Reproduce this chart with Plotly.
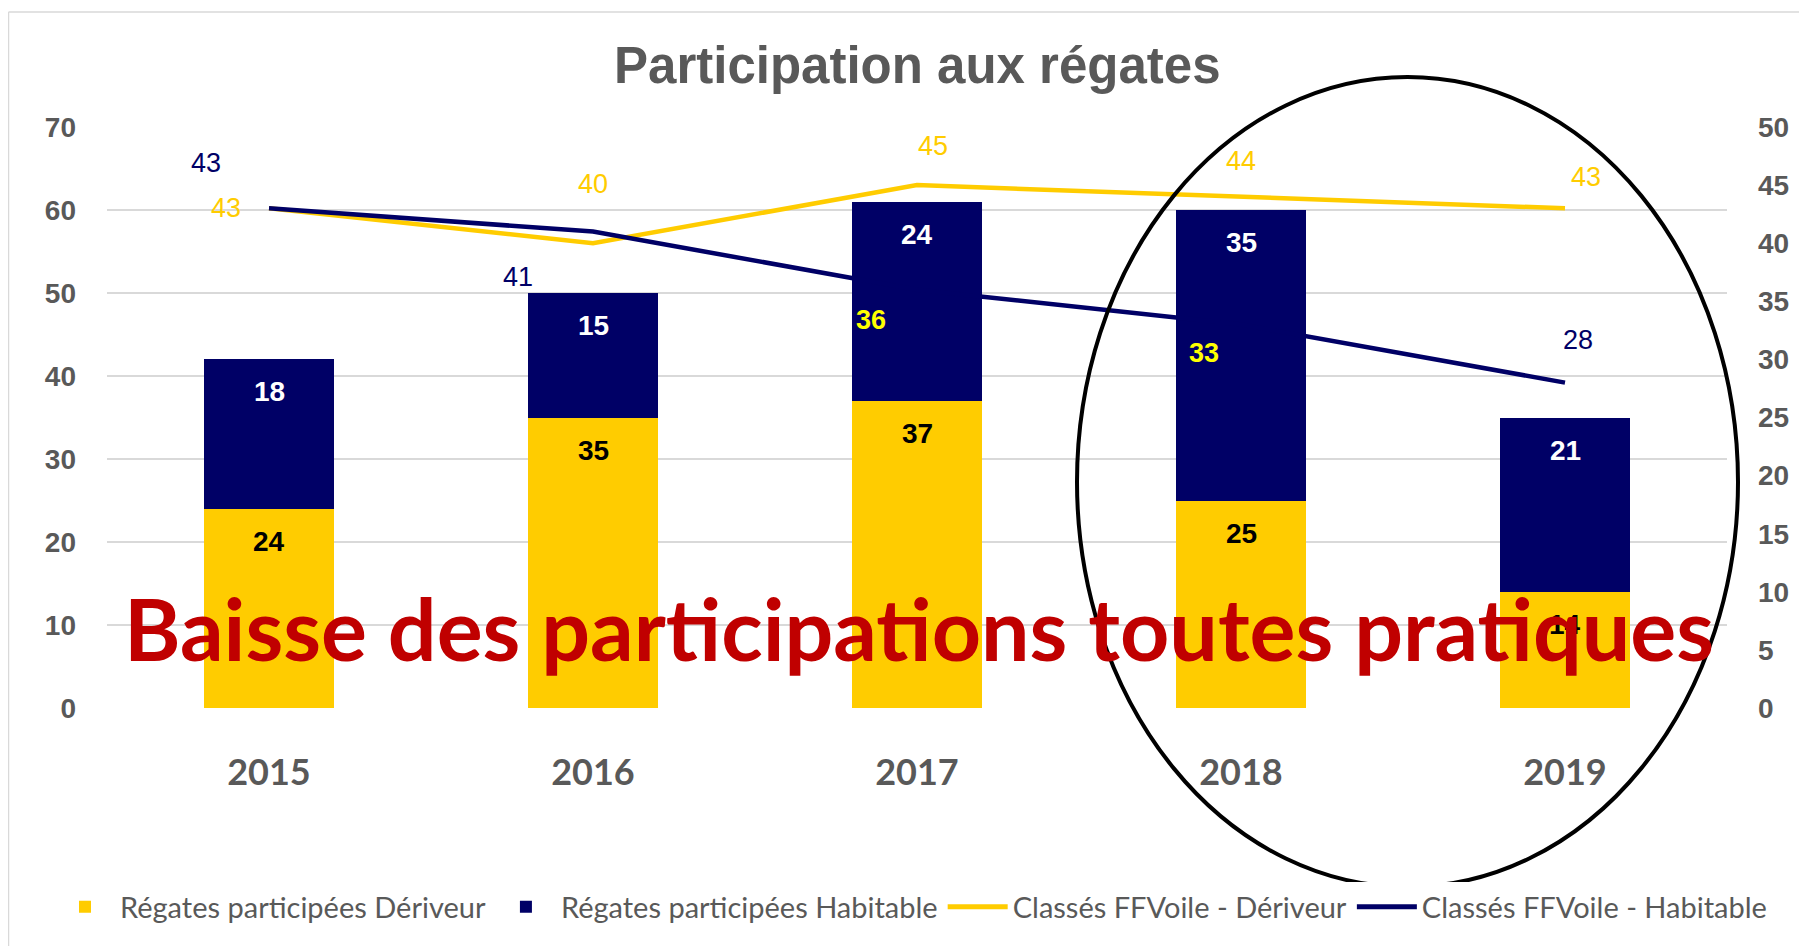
import plotly.graph_objects as go

# ---------------- data ----------------
years = ["2015", "2016", "2017", "2018", "2019"]
regates_deriveur = [24, 35, 37, 25, 14]
regates_habitable = [18, 15, 24, 35, 21]
classes_deriveur = [43, 40, 45, 44, 43]
classes_habitable = [43, 41, 36, 33, 28]

left_ticks = [0, 10, 20, 30, 40, 50, 60, 70]
right_ticks = [0, 5, 10, 15, 20, 25, 30, 35, 40, 45, 50]

title_text = "Participation aux régates"
overlay_text = "Baisse des participations toutes pratiques"
names = ["Régates participées Dériveur", "Régates participées Habitable",
         "Classés FFVoile - Dériveur", "Classés FFVoile - Habitable"]

# ---------------- style ----------------
PAGE_W, PAGE_H = 1807, 946
BODY = 8                      # default body margin of the html page
W, H = PAGE_W - BODY, PAGE_H - BODY
PL, PR, PT, PB = 107, 1727, 127, 708     # plot area in page pixels
L, T = PL - BODY, PT - BODY
R, B = W - (PR - BODY), H - (PB - BODY)
PW, PH = PR - PL, PB - PT

YEL = "#FFCC00"
NAVY = "#000066"
GRAY = "#595959"
NUM = "Liberation Sans, Arial, sans-serif"
CAL = "Lato, Carlito, Calibri, sans-serif"

# label offsets (pixels) for line labels
der_off = [(-43, 0), (0, 59), (16, 39), (0, 36), (21, 31)]
hab_off = [(-63, 45), (-75, -45), (-46, -30), (-37, -28), (13, 43)]
hab_label_colors = [NAVY, NAVY, "#FFFF00", "#FFFF00", NAVY]
hab_label_bold = [False, False, True, True, False]


def px(x):
    return (x - PL) / PW


def py(y):
    return (PB - y) / PH


fig = go.Figure()
fig.add_trace(go.Bar(x=years, y=regates_deriveur, name=names[0],
                     marker=dict(color=YEL, line=dict(width=0)), width=0.4))
fig.add_trace(go.Bar(x=years, y=regates_habitable, name=names[1],
                     marker=dict(color=NAVY, line=dict(width=0)), width=0.4))
fig.add_trace(go.Scatter(x=years, y=classes_deriveur, name=names[2], mode="lines",
                         line=dict(color=YEL, width=4.5), yaxis="y2"))
fig.add_trace(go.Scatter(x=years, y=classes_habitable, name=names[3], mode="lines",
                         line=dict(color=NAVY, width=4.5), yaxis="y2"))

ann = []
# bar labels (x given as category index)
for i in range(len(years)):
    d = regates_deriveur[i]
    h = regates_habitable[i]
    ann.append(dict(x=i, y=d, xref="x", yref="y", text=str(d), showarrow=False,
                    yanchor="top", yshift=-15,
                    font=dict(family=NUM, size=28, color="black", weight="bold")))
    ann.append(dict(x=i, y=d + h, xref="x", yref="y", text=str(h), showarrow=False,
                    yanchor="top", yshift=-15,
                    font=dict(family=NUM, size=28, color="white", weight="bold")))
# line labels
for i in range(len(years)):
    dx, dy = der_off[i]
    ann.append(dict(x=i, y=classes_deriveur[i], xref="x", yref="y2",
                    text=str(classes_deriveur[i]), showarrow=False,
                    xshift=dx, yshift=dy,
                    font=dict(family=NUM, size=27, color=YEL)))
    dx, dy = hab_off[i]
    ann.append(dict(x=i, y=classes_habitable[i], xref="x", yref="y2",
                    text=str(classes_habitable[i]), showarrow=False,
                    xshift=dx, yshift=dy,
                    font=dict(family=NUM, size=27, color=hab_label_colors[i],
                              weight="bold" if hab_label_bold[i] else "normal")))
# title
ann.append(dict(x=0.5, y=py(65), xref="paper", yref="paper", text=title_text,
                showarrow=False, xanchor="center", yanchor="middle",
                font=dict(family="Liberation Sans, Arial, sans-serif", size=51,
                          color=GRAY, weight="bold")))
# overlay
ann.append(dict(x=px(919), y=py(627), xref="paper", yref="paper", text=overlay_text,
                showarrow=False, xanchor="center", yanchor="middle",
                font=dict(family=CAL, size=86, color="#C00000", weight="bold")))

shapes = [
    dict(type="line", xref="paper", yref="paper", x0=px(8.5), x1=px(PAGE_W),
         y0=py(12), y1=py(12), line=dict(color="#D9D9D9", width=1.5), layer="below"),
    dict(type="line", xref="paper", yref="paper", x0=px(8.5), x1=px(8.5),
         y0=py(12), y1=py(PAGE_H), line=dict(color="#D9D9D9", width=1.5), layer="below"),
    dict(type="circle", xref="paper", yref="paper", x0=px(1077), x1=px(1738),
         y0=py(77), y1=py(887), line=dict(color="black", width=4)),
]

fig.update_layout(
    width=W, height=H,
    margin=dict(l=L, r=R, t=T, b=B, autoexpand=False),
    paper_bgcolor="white", plot_bgcolor="white",
    barmode="stack", bargap=0.6,
    showlegend=True,
    legend=dict(orientation="h", x=px(50), y=py(907), xanchor="left", yanchor="middle",
                traceorder="normal",
                font=dict(family=CAL, size=29, color=GRAY),
                itemsizing="constant", tracegroupgap=0, itemwidth=60),
    xaxis=dict(type="category", range=[-0.5, 4.5], showgrid=False, showline=False,
               ticks="", ticklabelstandoff=40, automargin=False,
               tickfont=dict(family=CAL, size=36, color=GRAY, weight="bold")),
    yaxis=dict(range=[0, 70], tickvals=left_ticks, showgrid=True, gridcolor="#D9D9D9",
               gridwidth=1.5, zeroline=False, showline=False, ticks="",
               ticklabelstandoff=30, automargin=False,
               tickfont=dict(family=NUM, size=28, color=GRAY, weight="bold")),
    yaxis2=dict(range=[0, 50], tickvals=right_ticks, overlaying="y", side="right",
                showgrid=False, zeroline=False, showline=False, ticks="",
                ticklabelstandoff=30, automargin=False,
                tickfont=dict(family=NUM, size=28, color=GRAY, weight="bold")),
    annotations=ann,
    shapes=shapes,
)

fig.write_html("out.html")
